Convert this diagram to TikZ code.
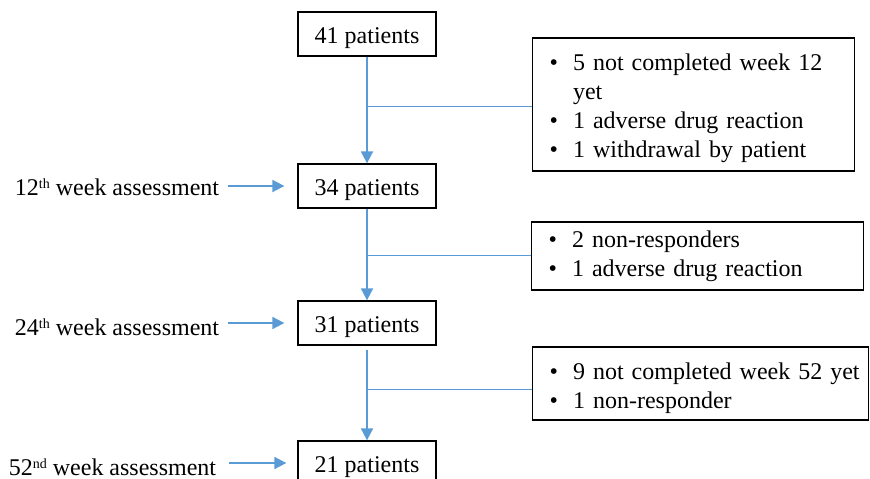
\documentclass[tikz,border=0pt]{standalone}
\usepackage{fontspec}
\setmainfont{Liberation Serif}
\usetikzlibrary{arrows.meta,positioning}
\definecolor{flowblue}{RGB}{91,155,213}
\newcommand{\Sup}[1]{\raisebox{7pt}{\fontsize{14}{14}\selectfont #1}}

\begin{document}
\begin{tikzpicture}[x=1pt,y=-1pt,font=\fontsize{24}{29}\selectfont]
          \tikzstyle{boxs} = [draw, line width=1.3pt, minimum width=138pt,
            minimum height=44pt, inner sep=0pt, text height=18pt, text depth=0pt]
          \tikzstyle{boxsX} = [draw, line width=1.3pt, anchor=west, align=left,
            inner xsep=17pt, inner ysep=0pt]
          \tikzstyle{week} = [inner sep=0pt, text height=18pt, text depth=0pt]
          \tikzstyle{line} = [draw, flowblue, line width=1.8pt, -{Triangle[length=12pt,width=12pt]}]
          \tikzstyle{lineB} = [draw, flowblue, line width=1pt]

          \useasboundingbox (0,0) rectangle (870,479);

          % patient counts
          \node(n41)[boxs] at (367,34) {41 patients};
          \node(n34)[boxs] at (367,186) {34 patients};
          \node(n31)[boxs] at (367,323) {31 patients};
          \node(n21)[boxs] at (367,463) {21 patients};

          \draw[line] (n41) -- (n34);
          \draw[line] (n34) -- (n31);
          \draw[line, shorten <=4pt] (n31) -- (n21);

          % excluded patients
          \node(excl1)[boxsX, text width=288pt, minimum height=133pt] at (532,104.5)
            {\begin{tabular}{@{}l@{\hspace{15pt}}l@{}}
              \rule{0pt}{28.3pt}\textbullet & 5 not completed week 12\\
                          & yet\\
              \textbullet & 1 adverse drug reaction\\
              \textbullet & 1 withdrawal by patient
            \end{tabular}};
          \node(excl2)[boxsX, text width=298pt, minimum height=68pt] at (531,256)
            {\begin{tabular}{@{}l@{\hspace{15pt}}l@{}}
              \textbullet & 2 non-responders\\
              \textbullet & 1 adverse drug reaction
            \end{tabular}};
          \node(excl3)[boxsX, text width=302pt, minimum height=73pt] at (532,383.5)
            {\begin{tabular}{@{}l@{\hspace{15pt}}l@{}}
              \rule{0pt}{30.3pt}\textbullet & 9 not completed week 52 yet\\
              \textbullet & 1 non-responder
            \end{tabular}};

          \draw[lineB] ([yshift=-1.5pt]excl1.west) -- ([yshift=-1.5pt]excl1.west -| n41.south);
          \draw[lineB] ([yshift=1pt]excl2.west) -- ([yshift=1pt]excl2.west -| n34.south);
          \draw[lineB] ([yshift=-5.5pt]excl3.west) -- ([yshift=-5.5pt]excl3.west -| n31.south);

          % assessments
          \node(w12)[week, left=78pt of n34] {12\Sup{th} week assessment};
          \node(w24)[week, left=78pt of n31, yshift=-3pt] {24\Sup{th} week assessment};
          \node(w52)[week, left=81pt of n21, yshift=-3pt] {52\Sup{nd} week assessment};

          \draw[line, shorten <=9pt, shorten >=13pt] (w12.east) -- (w12.east -| n34.west);
          \draw[line, shorten <=9pt, shorten >=13pt] (w24.east |- n31) -- (n31.west);
          \draw[line, shorten <=13pt, shorten >=11pt] (w52.east |- n21) -- (n21.west);
\end{tikzpicture}
\end{document}
